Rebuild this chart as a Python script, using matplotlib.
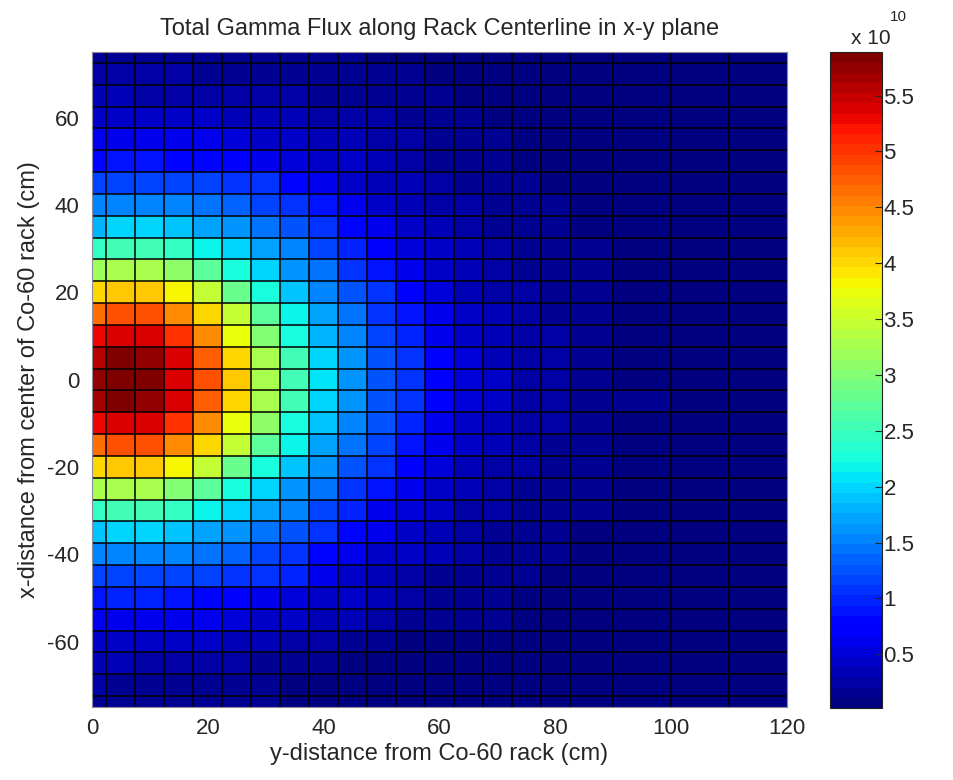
import numpy as np
import matplotlib
matplotlib.use("Agg")
import matplotlib.pyplot as plt

# ---- data (flux in units of 1e10) ----
x_edges = [0, 2.5, 7.5, 12.5, 17.5, 22.5, 27.5, 32.5, 37.5, 42.5, 47.5, 52.5,
           57.5, 62.5, 67.5, 72.5, 77.5, 82.5, 90, 100, 110, 120]
y_edges = [75, 72.5, 67.5, 62.5, 57.5, 52.5, 47.5, 42.5, 37.5, 32.5, 27.5, 22.5,
           17.5, 12.5, 7.5, 2.5, -2.5, -7.5, -12.5, -17.5, -22.5, -27.5, -32.5,
           -37.5, -42.5, -47.5, -52.5, -57.5, -62.5, -67.5, -72.5, -75]

# rows listed from top (y = 75) to bottom (y = -75); 21 columns each
flux = [
    [0.18, 0.18, 0.17, 0.17, 0.17, 0.16, 0.15, 0.14, 0.13, 0.12, 0.11, 0.10, 0.09, 0.08, 0.07, 0.06, 0.06, 0.05, 0.04, 0.04, 0.03],
    [0.22, 0.22, 0.21, 0.21, 0.20, 0.19, 0.18, 0.17, 0.15, 0.14, 0.13, 0.12, 0.10, 0.09, 0.08, 0.07, 0.06, 0.05, 0.05, 0.04, 0.03],
    [0.30, 0.30, 0.29, 0.29, 0.28, 0.26, 0.24, 0.22, 0.20, 0.18, 0.16, 0.14, 0.12, 0.10, 0.09, 0.08, 0.07, 0.06, 0.05, 0.04, 0.04],
    [0.43, 0.43, 0.41, 0.41, 0.40, 0.37, 0.34, 0.31, 0.27, 0.24, 0.21, 0.18, 0.15, 0.12, 0.10, 0.09, 0.08, 0.07, 0.06, 0.05, 0.04],
    [0.59, 0.62, 0.59, 0.59, 0.58, 0.52, 0.47, 0.43, 0.36, 0.30, 0.25, 0.21, 0.18, 0.14, 0.12, 0.10, 0.09, 0.08, 0.06, 0.05, 0.04],
    [0.84, 0.89, 0.89, 0.84, 0.82, 0.75, 0.62, 0.55, 0.46, 0.39, 0.30, 0.24, 0.20, 0.16, 0.13, 0.11, 0.10, 0.08, 0.07, 0.05, 0.04],
    [1.16, 1.21, 1.21, 1.16, 1.16, 1.12, 1.03, 0.84, 0.59, 0.47, 0.38, 0.30, 0.24, 0.19, 0.15, 0.12, 0.11, 0.09, 0.07, 0.06, 0.05],
    [1.49, 1.53, 1.53, 1.49, 1.40, 1.35, 1.21, 1.03, 0.89, 0.59, 0.46, 0.38, 0.28, 0.21, 0.17, 0.14, 0.12, 0.10, 0.08, 0.06, 0.05],
    [1.85, 1.99, 1.95, 1.90, 1.76, 1.63, 1.44, 1.26, 1.07, 0.84, 0.59, 0.46, 0.35, 0.25, 0.20, 0.16, 0.14, 0.11, 0.08, 0.06, 0.05],
    [2.41, 2.53, 2.53, 2.41, 2.13, 1.99, 1.76, 1.49, 1.21, 0.98, 0.70, 0.52, 0.42, 0.30, 0.23, 0.18, 0.15, 0.12, 0.09, 0.07, 0.05],
    [3.21, 3.32, 3.32, 3.10, 2.76, 2.30, 1.99, 1.67, 1.40, 1.12, 0.89, 0.63, 0.45, 0.34, 0.26, 0.20, 0.17, 0.13, 0.09, 0.07, 0.05],
    [4.01, 4.11, 4.11, 3.83, 3.44, 2.81, 2.30, 1.90, 1.53, 1.26, 1.03, 0.70, 0.52, 0.38, 0.29, 0.22, 0.18, 0.14, 0.10, 0.07, 0.06],
    [4.69, 4.86, 4.86, 4.51, 4.01, 3.44, 2.76, 2.13, 1.72, 1.40, 1.12, 0.89, 0.59, 0.43, 0.32, 0.24, 0.19, 0.14, 0.10, 0.07, 0.06],
    [5.29, 5.43, 5.43, 5.05, 4.51, 3.71, 2.98, 2.30, 1.85, 1.53, 1.21, 0.98, 0.66, 0.47, 0.35, 0.26, 0.21, 0.15, 0.11, 0.08, 0.06],
    [5.59, 5.84, 5.72, 5.35, 4.76, 4.01, 3.32, 2.53, 1.99, 1.63, 1.30, 1.03, 0.72, 0.52, 0.38, 0.27, 0.22, 0.16, 0.11, 0.08, 0.06],
    [5.72, 5.88, 5.84, 5.43, 4.86, 4.11, 3.32, 2.53, 2.04, 1.63, 1.30, 1.07, 0.74, 0.55, 0.40, 0.28, 0.22, 0.16, 0.11, 0.08, 0.06],
    [5.63, 5.84, 5.72, 5.35, 4.76, 4.01, 3.27, 2.53, 1.99, 1.63, 1.30, 1.03, 0.72, 0.52, 0.39, 0.28, 0.22, 0.16, 0.12, 0.08, 0.06],
    [5.25, 5.43, 5.35, 5.05, 4.51, 3.71, 3.10, 2.30, 1.90, 1.53, 1.26, 0.98, 0.66, 0.46, 0.35, 0.26, 0.21, 0.15, 0.11, 0.08, 0.06],
    [4.66, 4.86, 4.86, 4.51, 4.01, 3.44, 2.76, 2.13, 1.72, 1.40, 1.16, 0.89, 0.59, 0.41, 0.32, 0.24, 0.19, 0.14, 0.10, 0.07, 0.06],
    [4.01, 4.11, 4.11, 3.83, 3.44, 2.81, 2.30, 1.90, 1.58, 1.30, 1.07, 0.75, 0.51, 0.36, 0.29, 0.22, 0.18, 0.14, 0.10, 0.07, 0.06],
    [3.27, 3.32, 3.27, 3.04, 2.76, 2.30, 1.99, 1.67, 1.40, 1.12, 0.89, 0.62, 0.47, 0.31, 0.26, 0.20, 0.17, 0.13, 0.09, 0.07, 0.05],
    [2.41, 2.53, 2.53, 2.41, 2.19, 1.99, 1.76, 1.49, 1.21, 0.98, 0.66, 0.51, 0.39, 0.27, 0.23, 0.18, 0.15, 0.12, 0.09, 0.07, 0.05],
    [1.90, 1.99, 1.99, 1.90, 1.76, 1.63, 1.44, 1.26, 1.07, 0.84, 0.59, 0.43, 0.35, 0.23, 0.20, 0.16, 0.14, 0.11, 0.08, 0.06, 0.05],
    [1.53, 1.53, 1.53, 1.49, 1.40, 1.35, 1.21, 1.12, 0.84, 0.59, 0.47, 0.39, 0.30, 0.21, 0.17, 0.14, 0.12, 0.10, 0.08, 0.06, 0.05],
    [1.16, 1.21, 1.21, 1.16, 1.16, 1.12, 1.03, 0.94, 0.59, 0.47, 0.35, 0.27, 0.18, 0.17, 0.15, 0.12, 0.11, 0.09, 0.07, 0.06, 0.05],
    [0.89, 0.94, 0.94, 0.89, 0.84, 0.75, 0.62, 0.55, 0.47, 0.39, 0.30, 0.22, 0.18, 0.15, 0.13, 0.11, 0.10, 0.08, 0.07, 0.05, 0.04],
    [0.59, 0.62, 0.59, 0.59, 0.59, 0.51, 0.47, 0.43, 0.35, 0.30, 0.22, 0.18, 0.15, 0.13, 0.12, 0.10, 0.09, 0.08, 0.06, 0.05, 0.04],
    [0.43, 0.43, 0.39, 0.39, 0.39, 0.35, 0.30, 0.27, 0.22, 0.18, 0.15, 0.10, 0.10, 0.10, 0.10, 0.09, 0.08, 0.07, 0.06, 0.05, 0.04],
    [0.30, 0.30, 0.27, 0.27, 0.27, 0.22, 0.18, 0.18, 0.15, 0.10, 0.10, 0.08, 0.07, 0.09, 0.08, 0.07, 0.07, 0.06, 0.05, 0.04, 0.04],
    [0.22, 0.18, 0.18, 0.18, 0.18, 0.15, 0.15, 0.10, 0.10, 0.08, 0.07, 0.07, 0.06, 0.07, 0.07, 0.06, 0.06, 0.05, 0.05, 0.04, 0.03],
    [0.18, 0.15, 0.15, 0.15, 0.15, 0.12, 0.12, 0.10, 0.08, 0.07, 0.06, 0.06, 0.06, 0.06, 0.06, 0.05, 0.05, 0.05, 0.04, 0.04, 0.03],
]

x_ticks = [0, 20, 40, 60, 80, 100, 120]
y_ticks = [-60, -40, -20, 0, 20, 40, 60]
cbar_ticks = [0.5, 1, 1.5, 2, 2.5, 3, 3.5, 4, 4.5, 5, 5.5]
cbar_labels = ["0.5", "1", "1.5", "2", "2.5", "3", "3.5", "4", "4.5", "5", "5.5"]
clim = (0.02, 5.89)

# ---- figure ----
plt.rcParams['font.family'] = ['Liberation Sans', 'DejaVu Sans']
plt.rcParams['axes.unicode_minus'] = False
FS = 16
FL = 17
TXT = '#262626'
W, H = 954, 780
fig = plt.figure(figsize=(W / 100, H / 100), dpi=100)

def px_rect(l, t, r, b):
    return [l / W, 1 - b / H, (r - l) / W, (b - t) / H]

ax = fig.add_axes(px_rect(92, 52, 787, 707))
cmap = plt.get_cmap('jet', 64)
mesh = ax.pcolormesh(np.array(x_edges), np.array(y_edges), np.array(flux),
                     cmap=cmap, vmin=clim[0], vmax=clim[1], edgecolors='none')
# cell borders (pcolor faceted edges)
ax.vlines(x_edges[1:-1], min(y_edges), max(y_edges), colors='black', linewidth=1.1)
ax.hlines(y_edges[1:-1], min(x_edges), max(x_edges), colors='black', linewidth=1.1)
ax.set_xlim(0, 120)
ax.set_ylim(-75, 75)
ax.set_xticks(x_ticks)
ax.set_yticks(y_ticks)
ax.tick_params(length=0, labelsize=FS, colors=TXT)
ax.tick_params(axis='x', pad=8)
ax.tick_params(axis='y', pad=9)
for s in ax.spines.values():
    s.set_color('#8c8c9c')
    s.set_linewidth(0.8)

ax.set_title('Total Gamma Flux along Rack Centerline in x-y plane',
             fontsize=FL, color=TXT, pad=12)
ax.set_xlabel('y-distance from Co-60 rack (cm)', fontsize=FL, color=TXT, labelpad=3)
ax.set_ylabel('x-distance from center of Co-60 rack (cm)', fontsize=FL, color=TXT, labelpad=5)

cax = fig.add_axes(px_rect(830, 52, 882, 708))
cb = fig.colorbar(mesh, cax=cax, ticks=cbar_ticks)
cb.ax.set_yticklabels(cbar_labels)
cb.ax.tick_params(direction='in', length=5, width=0.8, labelsize=FS,
                  colors=TXT, pad=1)
cb.outline.set_edgecolor('#222222')
cb.outline.set_linewidth(0.8)

fig.text(851 / W, 1 - 38 / H, 'x 10', fontsize=15, color=TXT, va='center', ha='left')
fig.text(890 / W, 1 - 17 / H, '10', fontsize=11, color=TXT, va='center', ha='left')

fig.savefig('out.png', dpi=100)
